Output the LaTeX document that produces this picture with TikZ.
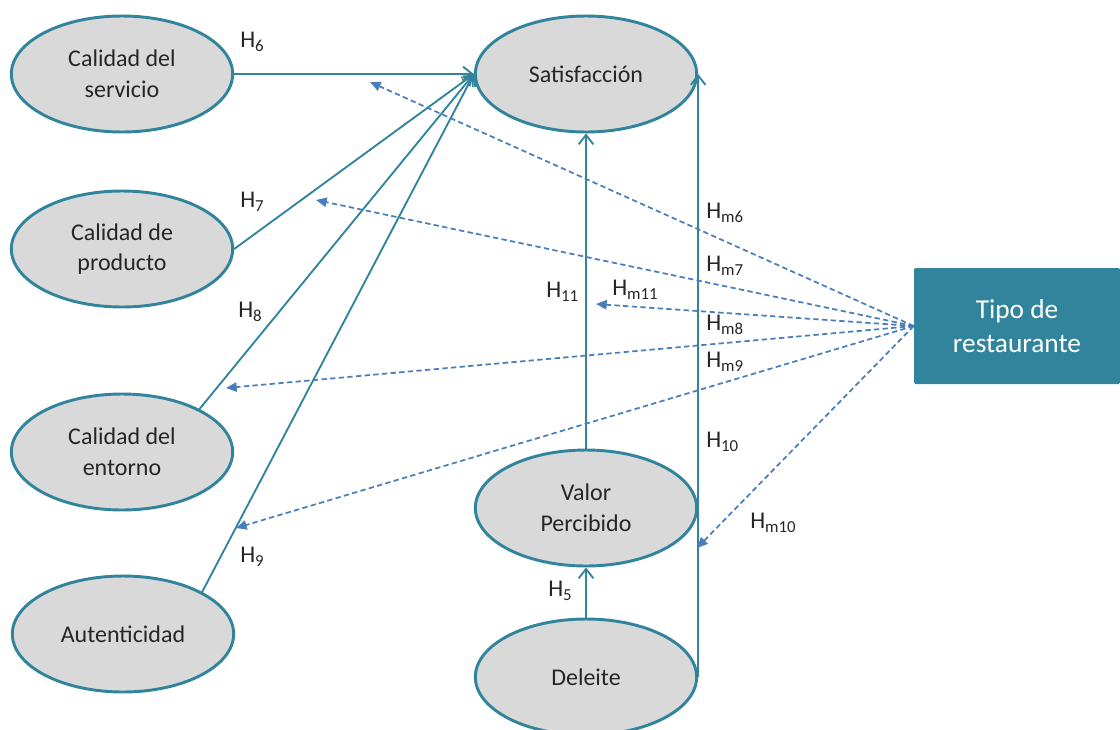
\documentclass[tikz,border=0pt]{standalone}
\usepackage{fontspec}
\setmainfont{Carlito}
\usetikzlibrary{shapes.geometric,arrows.meta}
\definecolor{teal}{HTML}{31849B}
\definecolor{ovalfill}{HTML}{D9D9D9}
\definecolor{dashblue}{HTML}{4A7EBB}
\definecolor{ink}{HTML}{262626}
\newcommand\Hsub[1]{H\textsubscript{#1}}
\begin{document}
\begin{tikzpicture}[x=0.75pt,y=-0.75pt,
  construct/.style={ellipse,draw=teal,line width=2.2pt,fill=ovalfill,
    minimum width=166pt,minimum height=87pt,inner sep=0pt,align=center,
    text=ink,font=\fontsize{18}{23}\selectfont},
  moderator/.style={rectangle,fill=teal,minimum width=154.5pt,minimum height=87pt,
    rounded corners=1pt,align=center,text=white,font=\fontsize{20.5}{26}\selectfont},
  path/.style={draw=teal,line width=1.4pt,-{Straight Barb[length=7pt,width=11pt,line width=1.4pt]}},
  link/.style={draw=teal,line width=1.4pt},
  modpath/.style={draw=dashblue,line width=1.3pt,dash pattern=on 4pt off 2.5pt,
    -{Triangle[length=8pt,width=7pt]}},
  hlabel/.style={text=ink,font=\fontsize{18}{20}\selectfont,anchor=west,inner sep=0pt}]
\useasboundingbox (0,0) rectangle (1120,729);

% constructs
\node[construct] (serv) at (122,74) {Calidad del\\servicio};
\node[construct] (prod) at (122,249) {Calidad de\\producto};
\node[construct] (ent) at (122,452) {Calidad del\\entorno};
\node[construct] (aut) at (123,634) {Autenticidad};
\node[construct] (sat) at (586,74) {Satisfacción};
\node[construct] (val) at (586,508) {Valor\\Percibido};
\node[construct] (del) at (586,677) {Deleite};
\node[moderator] (tipo) at (1017,326) {Tipo de\\restaurante};

% direct effects
\draw[path] (serv.east) -- (sat.west);
\draw[path] (prod.east) -- (sat.west);
\draw[path] (ent.29) -- (sat.west);
\draw[path] (aut.28) -- (sat.west);
\draw[path] (val.north) -- (sat.south);
\draw[path] (del.north) -- (val.south);
\draw[path] (del.east) -- (sat.east);

% moderation targets
\coordinate (m6) at (370,82);
\coordinate (m7) at (316,200);
\coordinate (m11) at (596,304);
\coordinate (m8) at (226,388);
\coordinate (m9) at (236,528);
\coordinate (m10) at (697,548);
\foreach \t in {m6,m7,m11,m8,m9,m10}
  \draw[modpath] (tipo.west) -- (\t);

% hypothesis labels
\node[hlabel] (h6) at (240,42) {\Hsub{6}};
\node[hlabel] (h7) at (240,202) {\Hsub{7}};
\node[hlabel] (h8) at (238,312) {\Hsub{8}};
\node[hlabel] (h9) at (240,557) {\Hsub{9}};
\node[hlabel] (h11) at (546,292) {\Hsub{11}};
\node[hlabel] (h5) at (548,591) {\Hsub{5}};
\node[hlabel] (h10) at (706,442) {\Hsub{10}};
\node[hlabel] (hm11) at (612,290) {\Hsub{m11}};
\node[hlabel] (hm6) at (706,213) {\Hsub{m6}};
\node[hlabel] (hm7) at (706,266) {\Hsub{m7}};
\node[hlabel] (hm8) at (706,325) {\Hsub{m8}};
\node[hlabel] (hm9) at (706,362) {\Hsub{m9}};
\node[hlabel] (hm10) at (750,523) {\Hsub{m10}};
\end{tikzpicture}
\end{document}
